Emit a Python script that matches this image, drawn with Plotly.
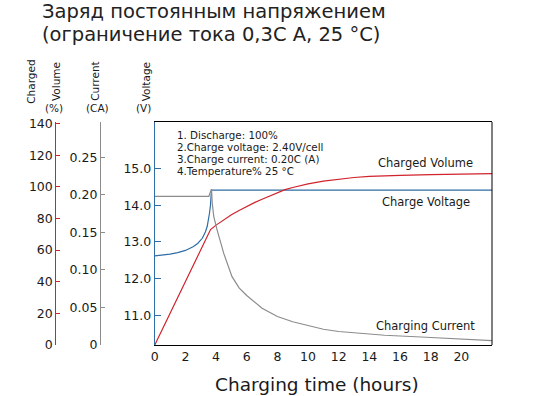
import plotly.graph_objects as go

# ---------------- data ----------------
vol_time = [0, 3.64, 4.0, 4.5, 5.0, 5.5, 6.0, 6.5, 7.0, 7.5, 8.0, 8.5, 9.0, 10, 11, 12, 13, 14, 15, 16, 18, 20, 22]
vol_pct = [0, 73, 75.8, 79.2, 82.3, 85.1, 87.7, 90.0, 92.2, 94.3, 96.4, 98.2, 99.6, 101.9, 103.6, 104.9, 105.9, 106.6, 107.0, 107.3, 107.7, 108.0, 108.4]

volt_time = [0, 0.5, 1.0, 1.5, 2.0, 2.5, 2.8, 3.1, 3.3, 3.42, 3.5, 3.57, 3.63, 3.66, 3.70, 22]
volt_v = [12.62, 12.64, 12.67, 12.71, 12.77, 12.87, 12.96, 13.1, 13.27, 13.42, 13.58, 13.78, 13.98, 14.14, 14.41, 14.41]

cur_time = [0, 3.53, 3.62, 3.70, 3.75, 3.85, 4.07, 4.5, 5.04, 5.5, 6.0, 6.5, 7.0, 8.0, 9.0, 10, 11, 12, 13.4, 15, 17.7, 20, 22]
cur_ca = [0.198, 0.198, 0.203, 0.2076, 0.189, 0.171, 0.153, 0.122, 0.091, 0.076, 0.066, 0.057, 0.049, 0.038, 0.031, 0.026, 0.021, 0.018, 0.0156, 0.013, 0.0103, 0.008, 0.0057]

x_ticks = [0, 2, 4, 6, 8, 10, 12, 14, 16, 18, 20]
pct_ticks = [0, 20, 40, 60, 80, 100, 120, 140]
cur_ticks = [0, 0.05, 0.10, 0.15, 0.20, 0.25]
cur_labels = ["0", "0.05", "0.10", "0.15", "0.20", "0.25"]
volt_ticks = [11.0, 12.0, 13.0, 14.0, 15.0]
volt_labels = ["11.0", "12.0", "13.0", "14.0", "15.0"]

notes = ["1. Discharge: 100%", "2.Charge voltage: 2.40V/cell",
         "3.Charge current: 0.20C (A)", "4.Temperature% 25 °C"]

# ---------------- layout helpers ----------------
W, H = 539, 396
ML, MR, MT, MB = 0, 47, 122, 51
PW = W - ML - MR
PH = H - MT - MB
FONT = "DejaVu Sans"
RED = "#D0232C"
BLUE = "#2F6DA6"
GREY = "#8C8C8C"
TXT = "#1a1a1a"


def px(x):
    return (x - ML) / PW


def py(y):
    return (H - MB - y) / PH


fig = go.Figure()
fig.add_trace(go.Scatter(x=volt_time, y=volt_v, mode="lines", line=dict(color=BLUE, width=1.2),
                         yaxis="y", showlegend=False, hoverinfo="skip"))
fig.add_trace(go.Scatter(x=cur_time, y=cur_ca, mode="lines", line=dict(color=GREY, width=1.2),
                         yaxis="y3", showlegend=False, hoverinfo="skip"))
fig.add_trace(go.Scatter(x=vol_time, y=vol_pct, mode="lines", line=dict(color=RED, width=1.2),
                         yaxis="y2", showlegend=False, hoverinfo="skip"))

x0 = px(152)
fig.update_layout(
    width=W, height=H,
    margin=dict(l=ML, r=MR, t=MT, b=MB),
    paper_bgcolor="white", plot_bgcolor="white",
    font=dict(family=FONT, color=TXT),
    xaxis=dict(domain=[x0, 1], range=[0, 22], tickvals=x_ticks, showgrid=False, zeroline=False,
               showline=True, linecolor="black", linewidth=1, mirror=True, ticks="",
               tickfont=dict(size=12.5, color=TXT)),
    yaxis=dict(range=[10.2, 16.26], tickvals=volt_ticks, ticktext=volt_labels, showgrid=False,
               zeroline=False, showline=True, linecolor=BLUE, linewidth=1, ticks="inside",
               ticklen=6, tickcolor=BLUE, tickfont=dict(size=12.5, color=TXT), anchor="x"),
    yaxis2=dict(range=[0, 141], tickvals=pct_ticks, showgrid=False, zeroline=False, showline=True,
                linecolor=RED, linewidth=1, ticks="inside", ticklen=4, tickcolor=RED,
                tickfont=dict(size=12.5, color=TXT), overlaying="y", anchor="free", position=px(51.7),
                side="left"),
    yaxis3=dict(range=[0, 0.297], tickvals=cur_ticks, ticktext=cur_labels, showgrid=False,
                zeroline=False, showline=True, linecolor=GREY, linewidth=1, ticks="inside", ticklen=4,
                tickcolor=GREY, tickfont=dict(size=12.5, color=TXT), overlaying="y", anchor="free",
                position=px(96.7), side="left"),
)

# right frame edge
fig.add_shape(type="line", xref="paper", yref="paper", x0=1, x1=1, y0=0, y1=1,
              line=dict(color="black", width=1))

ann = []
ann.append(dict(text="Заряд постоянным напряжением", x=px(36), y=py(11.5), xanchor="left",
                yanchor="middle", font=dict(size=19.5, color="#222")))
ann.append(dict(text="(ограничение тока 0,3C A, 25 °C)", x=px(36), y=py(34.5), xanchor="left",
                yanchor="middle", font=dict(size=19.5, color="#222")))
for t, cx, by in [("Charged", 27, 106), ("Volume", 52, 103), ("Current", 91, 103), ("Voltage", 143, 103)]:
    ann.append(dict(text=t, x=px(cx), y=py(by), xanchor="center", yanchor="bottom", textangle=-90,
                    font=dict(size=10.5, color=TXT)))
for t, cx in [("(%)", 50), ("(CA)", 94), ("(V)", 141)]:
    ann.append(dict(text=t, x=px(cx), y=py(108), xanchor="center", yanchor="middle",
                    font=dict(size=10.5, color=TXT)))
for i, t in enumerate(notes):
    ann.append(dict(text=t, x=px(172), y=py(134.5 + i * 12.2), xanchor="left", yanchor="middle",
                    font=dict(size=10.3, color=TXT)))
ann.append(dict(text="Charged Volume", x=px(425), y=py(163), xanchor="center", yanchor="middle",
                font=dict(size=11.5, color=TXT)))
ann.append(dict(text="Charge Voltage", x=px(425), y=py(202), xanchor="center", yanchor="middle",
                font=dict(size=11.5, color=TXT)))
ann.append(dict(text="Charging Current", x=px(425), y=py(326), xanchor="center", yanchor="middle",
                font=dict(size=11.5, color=TXT)))
ann.append(dict(text="Charging time (hours)", x=px(316), y=py(384), xanchor="center", yanchor="middle",
                font=dict(size=18.5, color=TXT)))
for a in ann:
    a.update(xref="paper", yref="paper", showarrow=False)
fig.update_layout(annotations=ann)

fig.write_html("out.html", config={"displayModeBar": False},
               post_script="document.body.style.margin='0';document.body.style.padding='0';")
